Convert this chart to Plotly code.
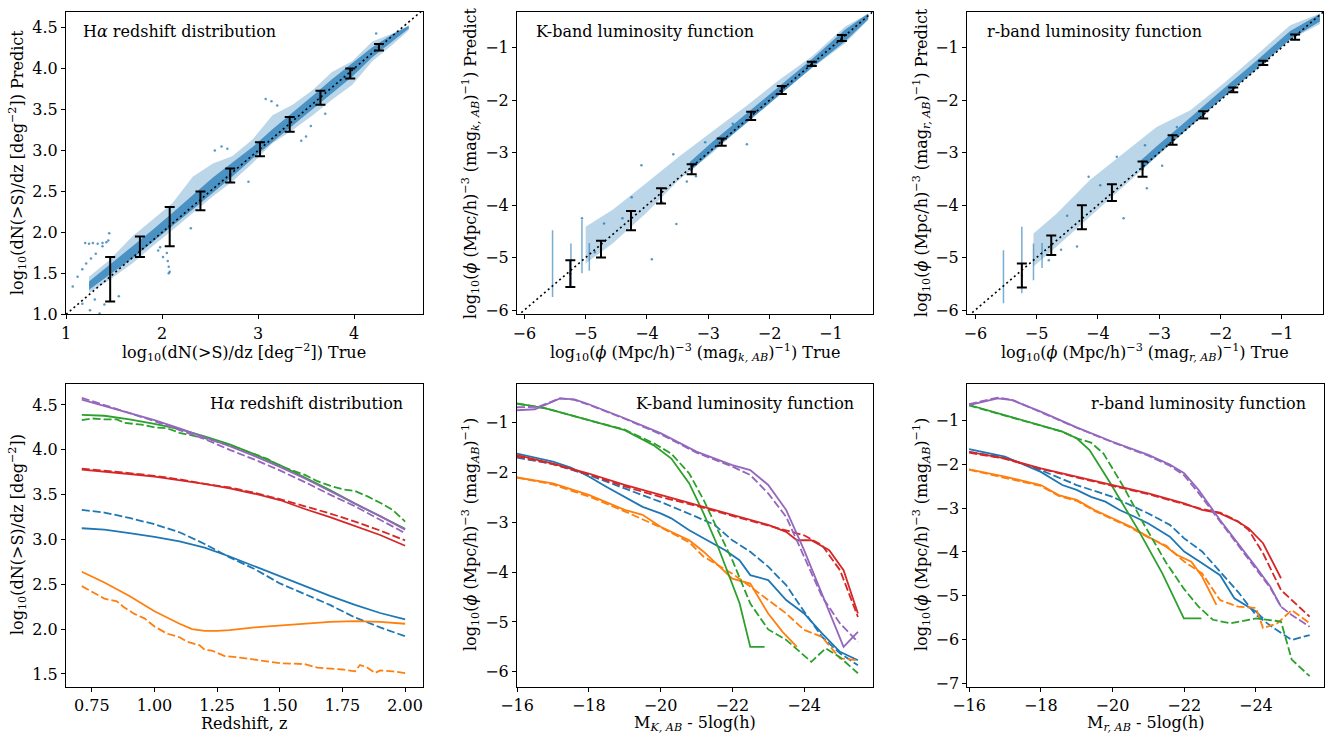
import plotly.graph_objects as go

W, H = 1336, 737
FONT = "DejaVu Serif"
BLUE, ORANGE, GREEN, RED, PURPLE = "#1f77b4", "#ff7f0e", "#2ca02c", "#d62728", "#9467bd"

# ---------------- Top-left: H-alpha predicted vs true ----------------
ha_diag = [1.0, 4.7]
ha_eb_x = [1.46, 1.77, 2.08, 2.40, 2.71, 3.02, 3.33, 3.65, 3.96, 4.26]
ha_eb_hi = [1.70, 1.95, 2.31, 2.50, 2.78, 3.10, 3.41, 3.73, 4.00, 4.30]
ha_eb_lo = [1.155, 1.70, 1.83, 2.27, 2.61, 2.93, 3.23, 3.56, 3.88, 4.22]
ha_band_x = [1.24, 1.45, 1.69, 1.90, 2.11, 2.32, 2.53, 2.73, 2.94, 3.15, 3.36, 3.57, 3.77, 3.98, 4.19, 4.40, 4.57]
ha_band_hi = [1.46, 1.66, 1.95, 2.15, 2.36, 2.68, 2.84, 2.93, 3.13, 3.43, 3.56, 3.74, 3.96, 4.09, 4.33, 4.43, 4.53]
ha_band_lo = [1.26, 1.42, 1.62, 1.83, 2.03, 2.23, 2.44, 2.62, 2.84, 3.09, 3.25, 3.43, 3.62, 3.80, 4.09, 4.29, 4.47]
ha_core_hi = [1.40, 1.60, 1.82, 2.03, 2.24, 2.46, 2.67, 2.85, 3.04, 3.26, 3.46, 3.67, 3.87, 4.06, 4.26, 4.42, 4.52]
ha_core_lo = [1.30, 1.48, 1.68, 1.88, 2.08, 2.28, 2.48, 2.68, 2.90, 3.10, 3.30, 3.50, 3.70, 3.90, 4.14, 4.33, 4.49]
ha_out_x = [1.07, 1.12, 1.17, 1.21, 1.26, 1.31, 1.38, 1.45, 1.20, 1.24, 1.28, 1.33, 1.38, 1.42, 1.44, 1.17, 1.35, 1.25,
            2.05, 2.06, 2.07, 2.08, 2.07, 1.98, 2.01, 1.96, 2.55, 2.62, 2.68, 3.08, 3.14, 3.20, 3.50, 3.45, 3.70, 4.23,
            2.30, 2.90, 3.55, 1.55, 1.40, 1.30]
ha_out_y = [1.34, 1.46, 1.55, 1.62, 1.68, 1.74, 1.83, 1.99, 1.87, 1.86, 1.87, 1.86, 1.87, 1.88, 1.90, 1.13, 1.01, 1.05,
            1.75, 1.65, 1.58, 1.52, 1.50, 1.82, 1.70, 1.78, 3.00, 3.05, 3.02, 3.63, 3.60, 3.55, 3.17, 3.12, 3.45, 4.43,
            2.05, 2.62, 3.30, 1.22, 1.12, 1.18]

# ---------------- Top-middle: K-band predicted vs true ----------------
k_diag = [-6.05, -0.32]
k_eb_x = [-5.25, -4.75, -4.26, -3.77, -3.27, -2.78, -2.30, -1.80, -1.31, -0.82]
k_eb_hi = [-5.05, -4.68, -4.11, -3.68, -3.22, -2.73, -2.22, -1.73, -1.27, -0.76]
k_eb_lo = [-5.56, -5.00, -4.48, -3.97, -3.41, -2.87, -2.38, -1.88, -1.35, -0.87]
k_band_x = [-5.00, -4.56, -4.02, -3.48, -2.94, -2.39, -1.85, -1.31, -0.77, -0.39]
k_band_hi = [-4.41, -4.09, -3.59, -3.08, -2.60, -2.12, -1.62, -1.17, -0.60, -0.35]
k_band_lo = [-5.11, -4.73, -4.16, -3.52, -3.01, -2.44, -1.90, -1.39, -0.92, -0.47]
k_core_x = [-3.30, -2.94, -2.39, -1.85, -1.31, -0.77, -0.39]
k_core_hi = [-3.18, -2.80, -2.27, -1.74, -1.22, -0.66, -0.35]
k_core_lo = [-3.36, -2.98, -2.45, -1.92, -1.38, -0.88, -0.46]
k_streak_x = [-5.54, -5.24, -5.06, -4.94]
k_streak_top = [-4.48, -4.73, -4.28, -4.72]
k_streak_bot = [-5.75, -5.56, -5.30, -5.25]
k_out_x = [-4.09, -3.57, -3.52, -3.92, -2.37, -3.20, -4.40, -4.70, -3.75, -2.60, -4.25, -4.85, -3.05, -3.35, -5.06]
k_out_y = [-3.24, -3.03, -4.36, -5.03, -2.84, -3.45, -4.25, -4.35, -3.95, -2.45, -3.85, -4.90, -2.80, -3.55, -4.25]

# ---------------- Top-right: r-band predicted vs true ----------------
r_diag = [-6.05, -0.32]
r_eb_x = [-5.24, -4.76, -4.26, -3.77, -3.27, -2.78, -2.28, -1.79, -1.30, -0.78]
r_eb_hi = [-5.11, -4.58, -4.00, -3.60, -3.17, -2.67, -2.21, -1.76, -1.25, -0.75]
r_eb_lo = [-5.57, -4.95, -4.46, -3.92, -3.46, -2.85, -2.35, -1.85, -1.33, -0.85]
r_band_x = [-5.05, -4.67, -4.13, -3.58, -3.04, -2.49, -1.95, -1.41, -0.86, -0.375]
r_band_hi = [-4.54, -4.16, -3.52, -3.01, -2.51, -2.19, -1.68, -1.14, -0.57, -0.35]
r_band_lo = [-5.17, -4.79, -4.22, -3.65, -3.08, -2.51, -1.93, -1.43, -0.85, -0.55]
r_core_x = [-3.30, -3.04, -2.49, -1.95, -1.41, -0.86, -0.375]
r_core_hi = [-3.15, -2.88, -2.33, -1.78, -1.25, -0.68, -0.36]
r_core_lo = [-3.35, -3.06, -2.50, -1.94, -1.40, -0.84, -0.50]
r_streak_x = [-5.54, -5.24, -5.05, -4.91]
r_streak_top = [-4.86, -4.41, -4.73, -4.72]
r_streak_bot = [-5.87, -5.68, -5.43, -5.20]
r_out_x = [-3.23, -3.69, -3.96, -3.58, -4.34, -4.15, -2.71, -3.20, -4.50, -4.80, -2.95, -4.60]
r_out_y = [-2.86, -3.08, -3.62, -4.25, -4.79, -3.46, -2.51, -3.68, -4.20, -5.05, -3.25, -4.85]

# ---------------- Bottom-left: H-alpha redshift distribution ----------------
ha_z = [0.71, 0.80, 0.90, 1.00, 1.10, 1.20, 1.30, 1.40, 1.50, 1.60, 1.70, 1.80, 1.90, 2.00]
ha_purple_solid = [4.56, 4.49, 4.41, 4.33, 4.24, 4.14, 4.04, 3.93, 3.81, 3.68, 3.54, 3.40, 3.26, 3.11]
ha_purple_dash = [4.58, 4.50, 4.41, 4.32, 4.22, 4.12, 4.00, 3.89, 3.77, 3.64, 3.50, 3.37, 3.22, 3.07]
ha_green_solid = [4.39, 4.38, 4.34, 4.29, 4.23, 4.15, 4.06, 3.95, 3.83, 3.69, 3.55, 3.40, 3.26, 3.12]
ha_red_solid = [3.78, 3.76, 3.73, 3.70, 3.66, 3.62, 3.57, 3.51, 3.44, 3.34, 3.25, 3.15, 3.05, 2.93]
ha_red_dash = [3.79, 3.77, 3.74, 3.71, 3.67, 3.62, 3.58, 3.52, 3.45, 3.37, 3.29, 3.20, 3.10, 2.99]
ha_blue_solid = [3.125, 3.11, 3.07, 3.03, 2.98, 2.91, 2.81, 2.70, 2.59, 2.48, 2.37, 2.27, 2.18, 2.11]
ha_blue_dash = [3.33, 3.30, 3.24, 3.17, 3.08, 2.95, 2.80, 2.67, 2.51, 2.39, 2.27, 2.13, 2.02, 1.92]
ha_green_dash_z = [0.71, 0.75, 0.80, 0.85, 0.88, 0.95, 1.00, 1.05, 1.10, 1.15, 1.20, 1.30, 1.40, 1.45, 1.50,
                   1.55, 1.60, 1.65, 1.70, 1.75, 1.80, 1.85, 1.90, 1.95, 2.00]
ha_green_dash = [4.33, 4.35, 4.34, 4.34, 4.30, 4.28, 4.25, 4.24, 4.19, 4.16, 4.13, 4.05, 3.95, 3.90, 3.82,
                 3.77, 3.72, 3.65, 3.60, 3.56, 3.54, 3.48, 3.41, 3.33, 3.20]
ha_orange_solid_z = [0.71, 0.80, 0.90, 1.00, 1.05, 1.10, 1.15, 1.20, 1.25, 1.30, 1.40, 1.50, 1.60, 1.70, 1.80, 1.90, 2.00]
ha_orange_solid = [2.64, 2.52, 2.37, 2.20, 2.13, 2.06, 2.00, 1.98, 1.98, 1.99, 2.02, 2.04, 2.06, 2.08, 2.09, 2.08, 2.06]
ha_orange_dash_z = [0.71, 0.75, 0.80, 0.85, 0.88, 0.92, 0.96, 1.00, 1.05, 1.10, 1.13, 1.18, 1.20, 1.23, 1.28, 1.35,
                    1.45, 1.50, 1.60, 1.65, 1.75, 1.80, 1.82, 1.85, 1.88, 1.90, 1.95, 2.00]
ha_orange_dash = [2.48, 2.42, 2.34, 2.31, 2.24, 2.17, 2.12, 2.03, 1.95, 1.91, 1.86, 1.82, 1.77, 1.76, 1.70, 1.68,
                  1.64, 1.62, 1.61, 1.57, 1.55, 1.53, 1.60, 1.57, 1.51, 1.54, 1.53, 1.51]

# ---------------- Bottom-middle: K-band luminosity function ----------------
kp_s_x = [-16.0, -16.5, -17.2, -17.6, -18, -19, -20, -21, -22, -22.5, -23, -23.5, -24, -24.5, -25.1, -25.5]
kp_s_y = [-0.75, -0.73, -0.51, -0.53, -0.63, -0.91, -1.21, -1.58, -1.85, -1.95, -2.25, -2.75, -3.56, -4.43, -5.50, -5.20]
kp_d_x = [-16.0, -16.6, -17.2, -17.6, -18, -19, -20, -21, -22, -22.5, -23, -23.5, -24, -24.5, -25, -25.5]
kp_d_y = [-0.69, -0.68, -0.51, -0.54, -0.64, -0.92, -1.23, -1.60, -1.88, -2.05, -2.42, -2.89, -3.69, -4.49, -5.03, -5.40]
kg_s_x = [-16.0, -16.8, -18, -19, -19.8, -20.3, -20.8, -21.2, -21.6, -22.0, -22.2, -22.5, -22.9]
kg_s_y = [-0.61, -0.71, -0.95, -1.15, -1.45, -1.72, -2.22, -2.82, -3.49, -4.23, -4.62, -5.50, -5.50]
kg_d_x = [-16.0, -16.8, -18, -19, -19.8, -20.3, -20.8, -21.2, -21.6, -22.0, -22.5, -23.0, -23.5, -24.2, -24.6, -25.0, -25.5]
kg_d_y = [-0.62, -0.71, -0.95, -1.14, -1.41, -1.62, -2.02, -2.55, -3.16, -3.76, -4.63, -5.15, -5.36, -5.80, -5.53, -5.71, -6.03]
kr_s_x = [-16.0, -17, -18, -19, -20, -21, -22, -22.5, -23, -23.5, -23.8, -24.2, -24.7, -25.1, -25.5]
kr_s_y = [-1.65, -1.82, -2.02, -2.25, -2.45, -2.65, -2.85, -2.95, -3.05, -3.19, -3.36, -3.36, -3.56, -3.96, -4.83]
kr_d_x = [-16.0, -17, -18, -19, -20, -21, -22, -23, -23.5, -24, -24.5, -25, -25.5]
kr_d_y = [-1.68, -1.83, -2.04, -2.28, -2.49, -2.67, -2.87, -3.07, -3.16, -3.26, -3.46, -3.96, -4.90]
kb_s_x = [-16.0, -17, -17.5, -18, -18.5, -19, -19.5, -20, -20.3, -20.8, -21.3, -21.8, -22.2, -22.5, -23, -23.5, -24, -24.5, -25, -25.5]
kb_s_y = [-1.62, -1.78, -1.90, -2.08, -2.29, -2.49, -2.69, -2.82, -2.92, -3.16, -3.36, -3.56, -3.76, -4.06, -4.16, -4.56, -4.83, -5.23, -5.60, -5.77]
kb_d_x = [-16.0, -17, -18, -19, -20, -21, -21.5, -22, -22.5, -23, -23.5, -24, -24.5, -25, -25.5]
kb_d_y = [-1.70, -1.83, -2.05, -2.32, -2.59, -2.89, -3.05, -3.36, -3.59, -3.89, -4.26, -4.79, -5.30, -5.63, -5.87]
ko_s_x = [-16.0, -17, -18, -19, -19.5, -20, -20.8, -21.2, -22, -22.5, -23, -23.4, -23.8]
ko_s_y = [-2.10, -2.22, -2.45, -2.75, -2.85, -3.09, -3.36, -3.59, -4.13, -4.23, -4.83, -5.20, -5.50]
ko_d_x = [-16.0, -17, -18, -19, -20, -20.8, -21.2, -22, -22.5, -23, -23.5, -24, -24.5, -25, -25.5]
ko_d_y = [-2.10, -2.24, -2.48, -2.78, -3.10, -3.40, -3.69, -4.03, -4.29, -4.56, -4.83, -5.16, -5.30, -5.73, -5.77]

# ---------------- Bottom-right: r-band luminosity function ----------------
rp_s_x = [-16.0, -16.8, -17.2, -18, -19, -20, -21, -21.6, -22, -22.4, -23, -23.5, -24, -24.4, -24.7]
rp_s_y = [-0.64, -0.49, -0.53, -0.79, -1.15, -1.48, -1.78, -2.00, -2.20, -2.58, -3.27, -3.80, -4.34, -4.79, -5.25]
rp_d_x = [-16.0, -16.8, -17.2, -18, -19, -20, -21, -21.6, -22, -22.4, -23, -23.5, -24, -24.4, -24.7, -25, -25.5]
rp_d_y = [-0.62, -0.47, -0.52, -0.80, -1.16, -1.49, -1.80, -2.03, -2.25, -2.65, -3.30, -3.85, -4.38, -4.82, -5.25, -5.44, -5.71]
rg_s_x = [-16.0, -17, -18, -18.6, -19.0, -19.36, -19.92, -20.75, -21.39, -21.99, -22.48]
rg_s_y = [-0.64, -0.87, -1.10, -1.25, -1.40, -1.67, -2.40, -3.54, -4.49, -5.52, -5.52]
rg_d_x = [-16.0, -17, -18, -18.6, -19.0, -19.4, -19.75, -20.3, -20.9, -21.5, -22.0, -22.4, -22.8, -23.3, -24.0, -24.7, -25.0, -25.5]
rg_d_y = [-0.65, -0.88, -1.11, -1.25, -1.40, -1.50, -1.75, -2.50, -3.40, -4.25, -4.85, -5.25, -5.55, -5.63, -5.52, -5.59, -6.46, -6.84]
rr_s_x = [-16.0, -17, -18, -19, -20, -21, -22, -22.5, -23, -23.5, -23.8, -24.2, -24.7]
rr_s_y = [-1.71, -1.86, -2.09, -2.28, -2.47, -2.66, -2.89, -3.04, -3.12, -3.31, -3.46, -3.80, -4.60]
rr_d_x = [-16.0, -17, -18, -19, -20, -21, -22, -22.5, -23, -23.5, -23.8, -24.2, -24.7, -25, -25.5]
rr_d_y = [-1.73, -1.87, -2.10, -2.30, -2.49, -2.68, -2.90, -3.02, -3.10, -3.30, -3.50, -4.03, -4.87, -5.10, -5.48]
rb_s_x = [-16.0, -17, -18, -18.6, -19, -19.4, -19.8, -20.2, -20.6, -21, -21.6, -22, -22.5, -23, -23.4, -24, -24.2]
rb_s_y = [-1.65, -1.82, -2.17, -2.47, -2.58, -2.74, -2.85, -3.04, -3.19, -3.35, -3.65, -3.99, -4.26, -4.53, -5.06, -5.36, -5.52]
rb_d_x = [-16.0, -17, -18, -19, -20, -20.5, -21, -21.6, -22, -22.5, -23, -23.5, -24, -24.5, -25, -25.5]
rb_d_y = [-1.71, -1.84, -2.13, -2.47, -2.74, -2.93, -3.12, -3.38, -3.69, -3.99, -4.45, -4.91, -5.44, -5.74, -6.01, -5.90]
ro_s_x = [-16.0, -17, -18, -18.5, -19, -19.5, -20, -20.5, -21, -21.5, -21.8, -22.2, -22.5, -22.9]
ro_s_y = [-2.11, -2.28, -2.47, -2.70, -2.81, -3.04, -3.23, -3.42, -3.65, -3.88, -4.07, -4.22, -4.56, -5.21]
ro_d_x = [-16.0, -17, -18, -18.5, -19, -19.5, -20, -20.5, -21, -21.5, -22, -22.5, -23, -23.5, -24, -24.2, -24.6, -25, -25.5]
ro_d_y = [-2.12, -2.30, -2.49, -2.72, -2.83, -3.06, -3.25, -3.44, -3.67, -3.86, -4.22, -4.49, -5.10, -5.25, -5.28, -5.74, -5.63, -5.33, -5.63]

# ---------------- figure ----------------
fig = go.Figure()
boxes = {
    1: (66, 422.7, 11.7, 314.3),
    2: (517, 872.7, 11.7, 314.3),
    3: (967, 1323.3, 11.7, 314.3),
    4: (66, 422.7, 384, 686.7),
    5: (517, 873, 384, 686.7),
    6: (967.3, 1324, 384, 686.7),
}

def axn(n, kind):
    return kind if n == 1 else f"{kind}{n}"

def add(n, tr):
    tr.update(xaxis=axn(n, "x"), yaxis=axn(n, "y"), showlegend=False, hoverinfo="skip")
    fig.add_trace(tr)

band_outer = "rgba(31,119,180,0.30)"
band_core = "rgba(31,119,180,0.72)"
dot_col = "rgba(31,119,180,0.75)"

def scatter_panel(n, bx, bhi, blo, cx, chi, clo, ox, oy, diag, ebx, ebhi, eblo, sx=None, stop=None, sbot=None):
    add(n, go.Scatter(x=bx + bx[::-1], y=bhi + blo[::-1], fill="toself", fillcolor=band_outer,
                      mode="lines", line=dict(width=0)))
    add(n, go.Scatter(x=cx + cx[::-1], y=chi + clo[::-1], fill="toself", fillcolor=band_core,
                      mode="lines", line=dict(width=0)))
    if sx is not None:
        xs, ys = [], []
        for a, t, b in zip(sx, stop, sbot):
            xs += [a, a, None]
            ys += [t, b, None]
        add(n, go.Scatter(x=xs, y=ys, mode="lines", line=dict(color="rgba(31,119,180,0.6)", width=1.5)))
    add(n, go.Scatter(x=ox, y=oy, mode="markers", marker=dict(size=2.5, color=dot_col)))
    add(n, go.Scatter(x=diag, y=diag, mode="lines", line=dict(color="black", width=1.6, dash="2px,3px")))
    yc = [(h + l) / 2 for h, l in zip(ebhi, eblo)]
    add(n, go.Scatter(x=ebx, y=yc, mode="markers", marker=dict(size=2, color="black"),
                      error_y=dict(type="data", symmetric=False,
                                   array=[h - c for h, c in zip(ebhi, yc)],
                                   arrayminus=[c - l for c, l in zip(yc, eblo)],
                                   color="black", thickness=2, width=5)))

scatter_panel(1, ha_band_x, ha_band_hi, ha_band_lo, ha_band_x, ha_core_hi, ha_core_lo,
              ha_out_x, ha_out_y, ha_diag, ha_eb_x, ha_eb_hi, ha_eb_lo)
scatter_panel(2, k_band_x, k_band_hi, k_band_lo, k_core_x, k_core_hi, k_core_lo,
              k_out_x, k_out_y, k_diag, k_eb_x, k_eb_hi, k_eb_lo, k_streak_x, k_streak_top, k_streak_bot)
scatter_panel(3, r_band_x, r_band_hi, r_band_lo, r_core_x, r_core_hi, r_core_lo,
              r_out_x, r_out_y, r_diag, r_eb_x, r_eb_hi, r_eb_lo, r_streak_x, r_streak_top, r_streak_bot)

DASH = "8px,3px"
LW = 1.8

def line(n, x, y, col, dashed):
    add(n, go.Scatter(x=x, y=y, mode="lines",
                      line=dict(color=col, width=LW, dash=DASH if dashed else "solid")))

# bottom-left
line(4, ha_z, ha_blue_solid, BLUE, False)
line(4, ha_z, ha_blue_dash, BLUE, True)
line(4, ha_orange_solid_z, ha_orange_solid, ORANGE, False)
line(4, ha_orange_dash_z, ha_orange_dash, ORANGE, True)
line(4, ha_z, ha_green_solid, GREEN, False)
line(4, ha_green_dash_z, ha_green_dash, GREEN, True)
line(4, ha_z, ha_red_solid, RED, False)
line(4, ha_z, ha_red_dash, RED, True)
line(4, ha_z, ha_purple_solid, PURPLE, False)
line(4, ha_z, ha_purple_dash, PURPLE, True)

# bottom-middle
for (xs, ys, xd, yd, c) in [(kb_s_x, kb_s_y, kb_d_x, kb_d_y, BLUE), (ko_s_x, ko_s_y, ko_d_x, ko_d_y, ORANGE),
                            (kg_s_x, kg_s_y, kg_d_x, kg_d_y, GREEN), (kr_s_x, kr_s_y, kr_d_x, kr_d_y, RED),
                            (kp_s_x, kp_s_y, kp_d_x, kp_d_y, PURPLE)]:
    line(5, xs, ys, c, False)
    line(5, xd, yd, c, True)

# bottom-right
for (xs, ys, xd, yd, c) in [(rb_s_x, rb_s_y, rb_d_x, rb_d_y, BLUE), (ro_s_x, ro_s_y, ro_d_x, ro_d_y, ORANGE),
                            (rg_s_x, rg_s_y, rg_d_x, rg_d_y, GREEN), (rr_s_x, rr_s_y, rr_d_x, rr_d_y, RED),
                            (rp_s_x, rp_s_y, rp_d_x, rp_d_y, PURPLE)]:
    line(6, xs, ys, c, False)
    line(6, xd, yd, c, True)

# ---------------- axes ----------------
def fmt(v, nd):
    return f"{v:.{nd}f}".replace("-", "\u2212")

axis_cfg = {
    1: dict(xr=[1.0, 4.715], yr=[1.0, 4.695], xt=[1, 2, 3, 4], xd=0, yt=[1.0, 1.5, 2.0, 2.5, 3.0, 3.5, 4.0, 4.5], yd=1),
    2: dict(xr=[-6.12, -0.317], yr=[-6.08, -0.314], xt=[-6, -5, -4, -3, -2, -1], xd=0, yt=[-6, -5, -4, -3, -2, -1], yd=0),
    3: dict(xr=[-6.135, -0.32], yr=[-6.08, -0.314], xt=[-6, -5, -4, -3, -2, -1], xd=0, yt=[-6, -5, -4, -3, -2, -1], yd=0),
    4: dict(xr=[0.647, 2.07], yr=[1.358, 4.734], xt=[0.75, 1.0, 1.25, 1.5, 1.75, 2.0], xd=2, yt=[1.5, 2.0, 2.5, 3.0, 3.5, 4.0, 4.5], yd=1),
    5: dict(xr=[-16.0, -25.92], yr=[-6.30, -0.223], xt=[-16, -18, -20, -22, -24], xd=0, yt=[-6, -5, -4, -3, -2, -1], yd=0),
    6: dict(xr=[-15.95, -25.9], yr=[-7.08, -0.16], xt=[-16, -18, -20, -22, -24], xd=0, yt=[-7, -6, -5, -4, -3, -2, -1], yd=0),
}

tickfont = dict(family=FONT, size=16, color="black")
common = dict(showline=True, mirror=True, linecolor="black", linewidth=1, ticks="outside", ticklen=4,
              tickwidth=1, tickcolor="black", showgrid=False, zeroline=False, tickfont=tickfont,
              automargin=False)
layout_axes = {}
for n, c in axis_cfg.items():
    x0, x1, y0, y1 = boxes[n]
    xname = "xaxis" if n == 1 else f"xaxis{n}"
    yname = "yaxis" if n == 1 else f"yaxis{n}"
    layout_axes[xname] = dict(domain=[x0 / W, x1 / W], range=c["xr"], anchor=axn(n, "y"),
                              tickmode="array", tickvals=c["xt"], ticktext=[fmt(v, c["xd"]) for v in c["xt"]],
                              **common)
    layout_axes[yname] = dict(domain=[1 - y1 / H, 1 - y0 / H], range=c["yr"], anchor=axn(n, "x"),
                              tickmode="array", tickvals=c["yt"], ticktext=[fmt(v, c["yd"]) for v in c["yt"]],
                              **common)

fig.update_layout(width=W, height=H, margin=dict(l=0, r=0, t=0, b=0, autoexpand=False), paper_bgcolor="white",
                  plot_bgcolor="white", font=dict(family=FONT, size=16, color="black"), **layout_axes)

# ---------------- text ----------------
def ann(text, x, y, xanchor="center", yanchor="middle", angle=0):
    fig.add_annotation(text=text, x=x / W, y=1 - y / H, xref="paper", yref="paper", showarrow=False,
                       xanchor=xanchor, yanchor=yanchor, textangle=angle,
                       font=dict(family=FONT, size=16, color="black"))

L10 = "log<sub>10</sub>"
ha_y = f"{L10}(dN(>S)/dz [deg<sup>\u22122</sup>])"
k_lab = f"{L10}(<i>\u03d5</i> (Mpc/h)<sup>\u22123</sup> (mag<sub><i>k, AB</i></sub>)<sup>\u22121</sup>)"
r_lab = f"{L10}(<i>\u03d5</i> (Mpc/h)<sup>\u22123</sup> (mag<sub><i>r, AB</i></sub>)<sup>\u22121</sup>)"
lf_y = f"{L10}(<i>\u03d5</i> (Mpc/h)<sup>\u22123</sup> (mag<sub><i>AB</i></sub>)<sup>\u22121</sup>)"

# panel labels
ann("H<i>\u03b1</i> redshift distribution", 81, 31, xanchor="left")
ann("K-band luminosity function", 534, 31, xanchor="left")
ann("r-band luminosity function", 985, 31, xanchor="left")
ann("H<i>\u03b1</i> redshift distribution", 405, 404, xanchor="right")
ann("K-band luminosity function", 856, 404, xanchor="right")
ann("r-band luminosity function", 1308, 404, xanchor="right")

# x titles
ann(ha_y + " True", (66 + 422.7) / 2, 353)
ann(k_lab + " True", (517 + 872.7) / 2, 353)
ann(r_lab + " True", (967 + 1323.3) / 2, 353)
ann("Redshift, z", (66 + 422.7) / 2, 723)
ann("M<sub><i>K, AB</i></sub> - 5log(h)", (517 + 873) / 2, 723)
ann("M<sub><i>r, AB</i></sub> - 5log(h)", (967.3 + 1324) / 2, 723)

# y titles
ann(ha_y + " Predict", 17, 163, angle=-90)
ann(k_lab + " Predict", 470, 163, angle=-90)
ann(r_lab + " Predict", 921, 163, angle=-90)
ann(ha_y, 17, 535, angle=-90)
ann(lf_y, 470, 535, angle=-90)
ann(lf_y, 921, 535, angle=-90)

fig.write_html("out.html")
